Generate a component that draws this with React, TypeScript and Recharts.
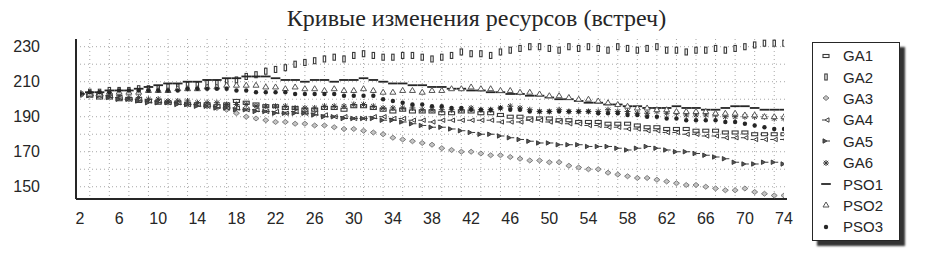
import React from "react";
import { LineChart, Line, XAxis, YAxis, CartesianGrid } from "recharts";

// iteration numbers on the x axis
const steps = [
  2, 3, 4, 5, 6, 7, 8, 9, 10, 11, 12, 13, 14, 15, 16, 17, 18, 19, 20, 21,
  22, 23, 24, 25, 26, 27, 28, 29, 30, 31, 32, 33, 34, 35, 36, 37, 38, 39, 40, 41,
  42, 43, 44, 45, 46, 47, 48, 49, 50, 51, 52, 53, 54, 55, 56, 57, 58, 59, 60, 61,
  62, 63, 64, 65, 66, 67, 68, 69, 70, 71, 72, 73, 74,
];

const ga1 = [
  203, 202, 201, 201, 200, 200, 199, 199, 198, 198,
  198, 197, 197, 197, 196, 197, 199, 198, 197, 196,
  196, 195, 195, 194, 194, 195, 195, 194, 196, 196,
  195, 194, 193, 194, 193, 193, 193, 192, 192, 193,
  193, 192, 192, 191, 190, 190, 189, 189, 189, 188,
  188, 187, 187, 187, 186, 186, 186, 185, 184, 184,
  183, 183, 183, 182, 182, 182, 181, 181, 181, 180,
  180, 180, 180,
];
const ga2 = [
  203, 204, 204, 205, 205, 205, 206, 206, 206, 207,
  207, 208, 208, 209, 209, 210, 211, 213, 214, 216,
  217, 218, 220, 221, 222, 223, 224, 223, 225, 226,
  225, 224, 224, 225, 225, 224, 223, 224, 225, 227,
  226, 226, 225, 227, 228, 229, 230, 230, 229, 228,
  230, 229, 230, 229, 228, 230, 229, 228, 229, 230,
  228, 228, 227, 228, 228, 229, 228, 229, 230, 231,
  232, 232, 232,
];
const ga3 = [
  203, 202, 202, 201, 201, 200, 200, 199, 199, 198,
  198, 197, 197, 196, 195, 194, 192, 190, 189, 188,
  187, 187, 186, 186, 185, 185, 184, 183, 183, 182,
  181, 180, 178, 177, 176, 175, 174, 172, 171, 170,
  170, 169, 168, 168, 167, 166, 165, 165, 164, 164,
  162, 161, 160, 160, 158, 157, 156, 155, 155, 154,
  153, 152, 151, 151, 150, 149, 148, 148, 149, 147,
  146, 145, 145,
];
const ga4 = [
  203, 203, 202, 202, 201, 200, 200, 199, 199, 198,
  198, 197, 197, 196, 196, 195, 195, 194, 194, 193,
  193, 192, 193, 192, 192, 191, 190, 190, 189, 189,
  190, 190, 189, 189, 188, 188, 187, 188, 188, 188,
  188, 188, 188, 187, 187, 187, 188, 188, 187, 187,
  186, 186, 185, 185, 184, 184, 183, 183, 182, 182,
  181, 181, 180, 180, 179, 179, 178, 178, 178, 177,
  177, 177, 177,
];
const ga5 = [
  203, 202, 202, 201, 200, 200, 199, 198, 198, 198,
  197, 197, 196, 196, 195, 195, 194, 194, 193, 193,
  192, 192, 192, 192, 191, 190, 190, 189, 189, 189,
  189, 188, 188, 187, 186, 185, 184, 184, 183, 182,
  181, 180, 180, 179, 178, 177, 176, 175, 175, 174,
  174, 174, 173, 173, 173, 172, 171, 172, 173, 172,
  171, 170, 170, 169, 168, 167, 166, 164, 163, 163,
  164, 164, 163,
];
const ga6 = [
  203, 203, 203, 202, 202, 201, 201, 200, 200, 199,
  199, 199, 198, 198, 198, 197, 197, 197, 196, 196,
  196, 196, 195, 195, 195, 196, 196, 196, 197, 197,
  196, 195, 195, 195, 195, 194, 194, 194, 194, 194,
  195, 194, 194, 195, 196, 195, 194, 193, 193, 194,
  193, 193, 193, 193, 194, 193, 193, 192, 192, 193,
  192, 192, 191, 191, 191, 191, 190, 190, 190, 190,
  190, 189, 189,
];
const pso1 = [
  203, 204, 204, 205, 205, 205, 206, 207, 208, 209,
  209, 210, 210, 211, 211, 212, 212, 213, 213, 213,
  212, 211, 211, 210, 211, 211, 210, 211, 211, 212,
  211, 210, 209, 209, 208, 208, 207, 207, 206, 206,
  205, 205, 204, 204, 203, 203, 202, 202, 201, 200,
  200, 199, 198, 198, 197, 197, 196, 196, 195, 195,
  195, 196, 195, 195, 194, 194, 195, 196, 196, 195,
  194, 194, 194,
];
const pso2 = [
  203, 203, 203, 204, 204, 204, 204, 205, 205, 205,
  206, 206, 206, 207, 207, 208, 208, 208, 208, 207,
  207, 206, 207, 206, 206, 205, 206, 205, 205, 206,
  205, 204, 204, 205, 205, 204, 205, 205, 206, 206,
  207, 206, 206, 205, 205, 204, 204, 203, 202, 202,
  201, 200, 200, 199, 198, 197, 196, 195, 195, 194,
  194, 193, 193, 193, 193, 192, 192, 192, 191, 191,
  190, 190, 190,
];
const pso3 = [
  203, 204, 204, 204, 205, 205, 205, 205, 205, 205,
  205, 206, 206, 206, 206, 206, 205, 205, 204, 204,
  204, 204, 203, 203, 203, 203, 203, 202, 202, 202,
  202, 200, 199, 198, 197, 197, 196, 196, 195, 195,
  194, 194, 194, 195, 194, 194, 193, 193, 193, 193,
  193, 193, 193, 192, 192, 192, 191, 191, 190, 190,
  189, 189, 188, 188, 188, 188, 187, 187, 186, 185,
  184, 183, 183,
];

const seriesNames = ["GA1", "GA2", "GA3", "GA4", "GA5", "GA6", "PSO1", "PSO2", "PSO3"];
const seriesValues = [ga1, ga2, ga3, ga4, ga5, ga6, pso1, pso2, pso3];

const xTicks = [2, 6, 10, 14, 18, 22, 26, 30, 34, 38, 42, 46, 50, 54, 58, 62, 66, 70, 74];
const xGrid = [
  3, 5, 7, 9, 11, 13, 15, 17, 19, 21, 23, 25, 27, 29, 31, 33, 35, 37,
  39, 41, 43, 45, 47, 49, 51, 53, 55, 57, 59, 61, 63, 65, 67, 69, 71, 73,
];
const yTicks = [150, 170, 190, 210, 230];
const yGrid = [150, 160, 170, 180, 190, 200, 210, 220, 230];

const data = steps.map((step, i) => {
  const row: Record<string, number> = { step };
  seriesNames.forEach((name, k) => {
    row[name] = seriesValues[k][i];
  });
  return row;
});

const INK = "#262626";
const MARK = "#3a3a3a";
const SANS = "'Liberation Sans', Arial, sans-serif";

// one small marker per series, drawn like the old chart control did
function Glyph({ name, x, y }: { name: string; x: number; y: number }) {
  switch (name) {
    case "GA1":
      return <rect x={x - 3} y={y - 1.5} width={6} height={3} fill="#fff" stroke={MARK} strokeWidth={1.1} />;
    case "GA2":
      return <rect x={x - 1.2} y={y - 3} width={2.4} height={6} fill="#fff" stroke={MARK} strokeWidth={1.1} />;
    case "GA3":
      return (
        <polygon
          points={`${x},${y - 2.5} ${x + 3},${y} ${x},${y + 2.5} ${x - 3},${y}`}
          fill="#c4c4c4"
          stroke="#707070"
          strokeWidth={0.9}
        />
      );
    case "GA4":
      return (
        <g stroke={MARK} strokeWidth={1} fill="#fff">
          <line x1={x - 4} y1={y} x2={x - 1} y2={y} />
          <polygon points={`${x - 1},${y} ${x + 3},${y - 2.2} ${x + 3},${y + 2.2}`} />
        </g>
      );
    case "GA5":
      return (
        <g stroke={MARK} strokeWidth={1} fill="#555">
          <polygon points={`${x - 3},${y - 2.2} ${x + 1},${y} ${x - 3},${y + 2.2}`} />
          <line x1={x + 1} y1={y} x2={x + 4} y2={y} />
        </g>
      );
    case "GA6":
      return (
        <g stroke={MARK} strokeWidth={1}>
          <line x1={x - 3} y1={y} x2={x + 3} y2={y} />
          <line x1={x} y1={y - 3} x2={x} y2={y + 3} />
          <line x1={x - 2.2} y1={y - 2.2} x2={x + 2.2} y2={y + 2.2} />
          <line x1={x - 2.2} y1={y + 2.2} x2={x + 2.2} y2={y - 2.2} />
        </g>
      );
    case "PSO1":
      return <rect x={x - 4.8} y={y - 0.9} width={9.6} height={1.8} fill={INK} />;
    case "PSO2":
      return (
        <polygon
          points={`${x},${y - 3} ${x + 3},${y + 2} ${x - 3},${y + 2}`}
          fill="#fff"
          stroke="#555"
          strokeWidth={1}
        />
      );
    default:
      return <circle cx={x} cy={y} r={2.2} fill={INK} />;
  }
}

const ChartLegend = () => (
  <div
    style={{
      position: "absolute",
      left: 812,
      top: 42,
      width: 86,
      height: 195,
      border: `1px solid ${INK}`,
      background: "#fff",
      boxShadow: "5px 5px 2px #333",
      paddingTop: 2,
      boxSizing: "content-box",
    }}
  >
    {seriesNames.map((name) => (
      <div key={name} style={{ display: "flex", alignItems: "center", height: 21.4 }}>
        <svg width={14} height={14} style={{ marginLeft: 6 }}>
          <Glyph name={name} x={7} y={7} />
        </svg>
        <span style={{ marginLeft: 10, fontFamily: SANS, fontSize: 15, color: INK }}>{name}</span>
      </div>
    ))}
  </div>
);

export default function App() {
  return (
    <div style={{ position: "absolute", left: 0, top: 0, width: 945, height: 261, background: "#fff" }}>
      <div
        style={{
          position: "absolute",
          left: 4,
          top: 5,
          width: 945,
          textAlign: "center",
          fontFamily: "'Liberation Serif', 'Times New Roman', serif",
          fontSize: 24,
          lineHeight: "27px",
          color: INK,
        }}
      >
        Кривые изменения ресурсов (встреч)
      </div>
      <LineChart width={945} height={261} data={data} margin={{ top: 39, right: 158, bottom: 0, left: 0 }}>
        <CartesianGrid
          horizontalValues={yGrid}
          verticalValues={xGrid}
          stroke="#a8a8a8"
          strokeDasharray="1 3"
        />
        <XAxis
          dataKey="step"
          type="number"
          domain={[2, 74]}
          ticks={xTicks}
          interval={0}
          padding={{ left: 4, right: 3 }}
          height={62}
          tickLine={false}
          tickSize={0}
          tickMargin={14}
          axisLine={{ stroke: INK, strokeWidth: 2 }}
          tick={{ fontSize: 16, fill: INK, fontFamily: SANS }}
          allowDataOverflow
        />
        <XAxis
          xAxisId="top"
          orientation="top"
          type="number"
          domain={[2, 74]}
          height={0}
          tick={false}
          tickLine={false}
          axisLine={{ stroke: "#777" }}
        />
        <YAxis
          type="number"
          domain={[143, 234.4]}
          ticks={yTicks}
          interval={0}
          width={76}
          tickLine={false}
          tickSize={0}
          tickMargin={36}
          axisLine={{ stroke: INK, strokeWidth: 2 }}
          tick={{ fontSize: 16, fill: INK, fontFamily: SANS }}
          allowDataOverflow
        />
        <YAxis
          yAxisId="right"
          orientation="right"
          type="number"
          domain={[143, 234.4]}
          width={0}
          tick={false}
          tickLine={false}
          axisLine={{ stroke: "#777" }}
        />
        {seriesNames.map((name) => (
          <Line
            key={name}
            type="linear"
            dataKey={name}
            stroke="none"
            activeDot={false}
            isAnimationActive={false}
            dot={(p: any) => <Glyph key={`${name}-${p.index}`} name={name} x={p.cx} y={p.cy} />}
          />
        ))}
      </LineChart>
      <ChartLegend />
    </div>
  );
}
